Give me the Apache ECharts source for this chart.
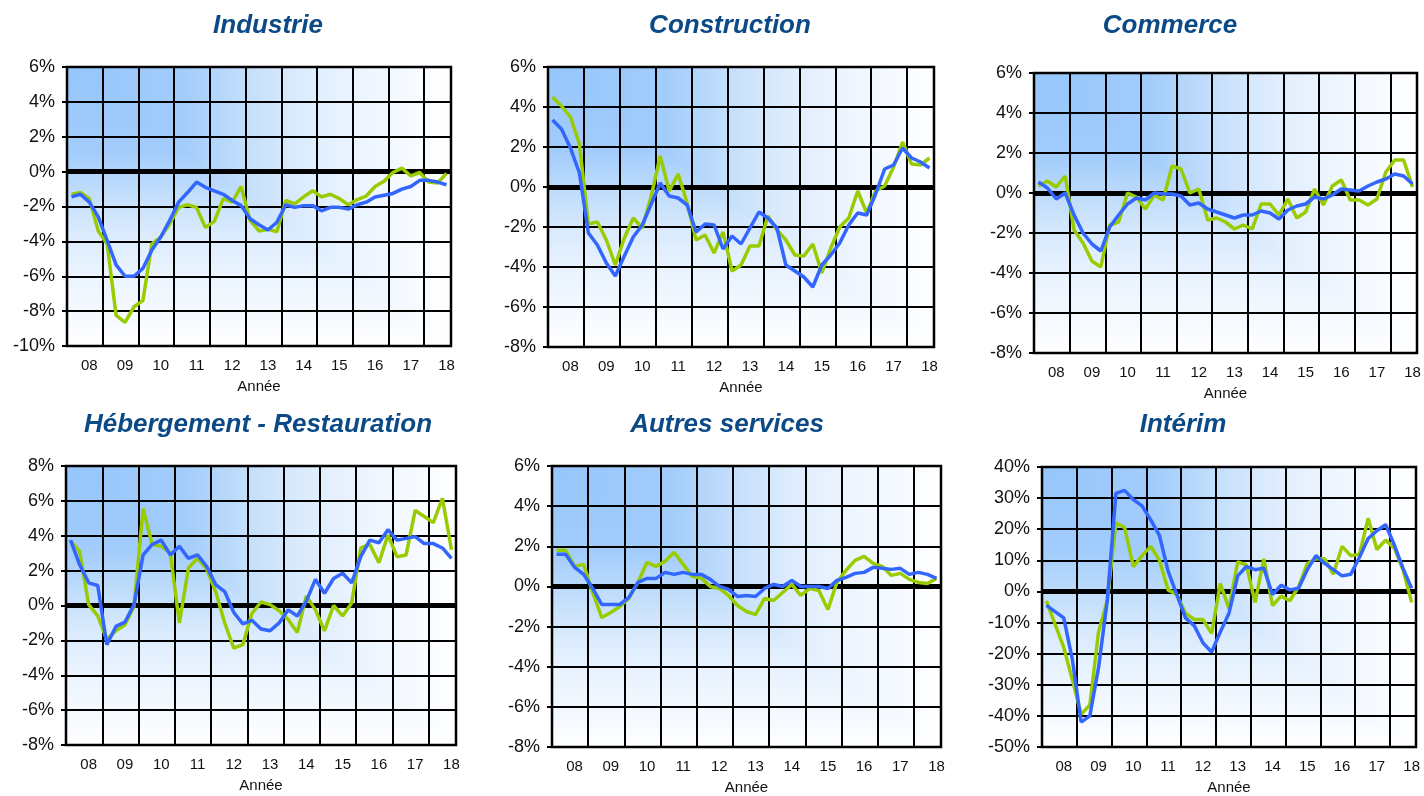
<!DOCTYPE html>
<html>
<head>
<meta charset="utf-8">
<script src="https://cdn.jsdelivr.net/npm/echarts@6/dist/echarts.min.js"></script>
<style>
html,body{margin:0;padding:0;background:#fff;}
#chart{width:1424px;height:796px;}
</style>
</head>
<body>
<div id="chart"></div>
<script>
// ---- categories (quarters) and tick labels ----
const quarters = ['2007T3','2007T4',
  '2008T1','2008T2','2008T3','2008T4','2009T1','2009T2','2009T3','2009T4',
  '2010T1','2010T2','2010T3','2010T4','2011T1','2011T2','2011T3','2011T4',
  '2012T1','2012T2','2012T3','2012T4','2013T1','2013T2','2013T3','2013T4',
  '2014T1','2014T2','2014T3','2014T4','2015T1','2015T2','2015T3','2015T4',
  '2016T1','2016T2','2016T3','2016T4','2017T1','2017T2','2017T3','2017T4',
  '2018T1'];
const yearLabels = ['08','09','10','11','12','13','14','15','16','17','18'];

// ---- series values (%) ----
const indGreen = [-1.3,-1.2,-1.55,-3.4,-4.15,-8.25,-8.65,-7.75,-7.4,-4.15,-3.75,-3.0,-2.05,-1.9,-2.05,-3.2,-2.85,-1.55,-1.75,-0.85,-2.8,-3.4,-3.3,-3.45,-1.65,-1.85,-1.45,-1.1,-1.45,-1.3,-1.55,-1.9,-1.6,-1.4,-0.85,-0.55,-0.05,0.2,-0.25,-0.05,-0.6,-0.65,-0.1];
const indBlue  = [-1.45,-1.3,-1.75,-2.6,-3.95,-5.35,-6.0,-6.0,-5.55,-4.5,-3.75,-2.8,-1.75,-1.2,-0.6,-0.9,-1.1,-1.3,-1.65,-1.95,-2.7,-3.05,-3.35,-2.9,-1.9,-2.05,-1.95,-1.95,-2.25,-2.05,-2.05,-2.15,-1.9,-1.75,-1.45,-1.35,-1.25,-1.0,-0.85,-0.5,-0.5,-0.6,-0.75];

const conGreen = [4.5,4.05,3.5,2.15,-1.85,-1.75,-2.65,-3.9,-2.55,-1.55,-2.05,-0.45,1.55,-0.2,0.65,-0.8,-2.65,-2.4,-3.3,-2.25,-4.2,-3.9,-2.95,-2.95,-1.45,-2.15,-2.65,-3.4,-3.45,-2.85,-4.3,-3.05,-2.0,-1.55,-0.2,-1.3,-0.2,0.05,1.0,2.25,1.15,1.1,1.45];
const conBlue  = [3.35,2.9,1.95,0.7,-2.3,-2.9,-3.8,-4.45,-3.45,-2.5,-1.9,-0.85,0.2,-0.45,-0.55,-0.9,-2.25,-1.85,-1.9,-3.1,-2.45,-2.85,-2.05,-1.25,-1.55,-2.05,-3.9,-4.2,-4.5,-5.0,-3.9,-3.4,-2.8,-1.9,-1.3,-1.4,-0.35,0.9,1.1,1.95,1.45,1.25,0.95];

const comGreen = [0.35,0.6,0.3,0.85,-1.85,-2.5,-3.4,-3.7,-1.6,-1.45,0.0,-0.2,-0.8,-0.1,-0.35,1.35,1.2,0.0,0.2,-1.35,-1.25,-1.45,-1.8,-1.6,-1.8,-0.55,-0.55,-1.1,-0.3,-1.25,-0.95,0.2,-0.6,0.35,0.65,-0.35,-0.35,-0.6,-0.3,1.05,1.65,1.65,0.3];
const comBlue  = [0.55,0.25,-0.3,0.0,-1.1,-2.0,-2.55,-2.9,-1.7,-1.1,-0.55,-0.25,-0.35,0.0,-0.05,-0.05,-0.15,-0.6,-0.5,-0.8,-0.95,-1.1,-1.25,-1.1,-1.1,-0.9,-1.0,-1.3,-0.85,-0.65,-0.55,-0.2,-0.3,-0.1,0.2,0.15,0.1,0.35,0.55,0.7,0.95,0.85,0.45];

const hebGreen = [3.7,3.1,0.05,-0.6,-1.95,-1.45,-1.1,-0.05,5.55,3.5,3.4,3.0,-1.0,2.15,2.7,2.1,0.8,-1.0,-2.45,-2.25,-0.45,0.2,0.05,-0.3,-0.8,-1.55,0.55,-0.25,-1.45,0.0,-0.6,0.15,3.3,3.5,2.45,4.05,2.8,2.9,5.45,5.1,4.75,6.15,3.2];
const hebBlue  = [3.75,2.35,1.3,1.15,-2.25,-1.2,-0.95,0.05,2.9,3.5,3.75,2.9,3.4,2.7,2.9,2.25,1.2,0.8,-0.4,-1.05,-0.85,-1.35,-1.45,-1.0,-0.25,-0.6,0.25,1.5,0.7,1.55,1.85,1.3,2.8,3.75,3.6,4.35,3.75,3.85,3.95,3.55,3.55,3.3,2.7];

const autGreen = [1.8,1.8,1.0,1.1,-0.3,-1.55,-1.3,-1.0,-0.6,0.2,1.2,1.0,1.25,1.7,1.1,0.5,0.4,0.0,-0.1,-0.45,-0.95,-1.25,-1.4,-0.6,-0.7,-0.3,0.1,-0.45,-0.1,-0.2,-1.15,0.2,0.8,1.3,1.5,1.15,1.0,0.55,0.65,0.35,0.2,0.15,0.4];
const autBlue  = [1.6,1.6,0.95,0.6,-0.1,-0.9,-0.9,-0.9,-0.55,0.2,0.4,0.4,0.7,0.6,0.7,0.6,0.6,0.35,0.0,-0.15,-0.5,-0.45,-0.5,-0.1,0.1,0.0,0.3,0.0,0.0,0.0,-0.1,0.3,0.45,0.65,0.7,0.95,0.9,0.85,0.9,0.6,0.7,0.6,0.4];

const intGreen = [-3,-10.5,-18,-28.5,-39.5,-36.5,-13,-3,22,20.5,8,11.5,14.5,10,0.5,-1,-7,-9,-9,-13.5,2.5,-5.5,9.5,8.5,-3.5,10.5,-4.5,-1.5,-3,1.5,9,10.5,10.5,5.5,14.5,11.5,12,23.5,13.5,16.5,14,7,-3.5];
const intBlue  = [-4.5,-6.5,-8.5,-22,-42,-40,-24.5,-3,31.5,32.5,29.5,27.5,23,18,6.5,-1,-8.5,-11,-16.5,-19.5,-13,-7,5,8,7,7.5,-1,2,0.5,1,7,11.5,9,7,5,5.5,11,17,19.5,21.5,15,7.5,1];

// ---- panel layout ----
const panels = [
  {title:'Industrie', green:indGreen, blue:indBlue, min:-10, max:6, step:2,
   g:{left:67, top:67, width:384, height:279}, tx:263, ty:8},
  {title:'Construction', green:conGreen, blue:conBlue, min:-8, max:6, step:2,
   g:{left:548, top:67, width:386, height:280}, tx:725, ty:8},
  {title:'Commerce', green:comGreen, blue:comBlue, min:-8, max:6, step:2,
   g:{left:1034, top:73, width:383, height:280}, tx:1165, ty:8},
  {title:'Hébergement - Restauration', green:hebGreen, blue:hebBlue, min:-8, max:8, step:2,
   g:{left:66, top:466, width:390, height:279}, tx:253, ty:407},
  {title:'Autres services', green:autGreen, blue:autBlue, min:-8, max:6, step:2,
   g:{left:552, top:466, width:389, height:286}, tx:722, ty:407},
  {title:'Intérim', green:intGreen, blue:intBlue, min:-50, max:40, step:10,
   g:{left:1042, top:467, width:374, height:282}, tx:1178, ty:407}
];

const FONT = '"Liberation Sans", Arial, Helvetica, sans-serif';
const GREEN = '#99cc00';
const BLUE = '#3366ff';
const stops = [
  {offset:0, color:'#96c6fb'},
  {offset:0.3, color:'#a2ccfb'},
  {offset:0.45, color:'#c0ddfb'},
  {offset:0.6, color:'#dbebfd'},
  {offset:0.75, color:'#ebf4fe'},
  {offset:0.9, color:'#f6faff'},
  {offset:1, color:'#ffffff'}
];

const option = {
  animation:false,
  backgroundColor:'#ffffff',
  title:[], grid:[], xAxis:[], yAxis:[], series:[], graphic:{elements:[]}
};

panels.forEach(function(p, k){
  option.title.push({
    text:p.title, left:p.tx, top:p.ty, textAlign:'center',
    textStyle:{fontFamily:FONT, fontSize:26, fontWeight:'bold', fontStyle:'italic', color:'#0b4a86'}
  });
  option.grid.push({
    left:p.g.left, top:p.g.top, width:p.g.width, height:p.g.height,
    containLabel:false, show:true, backgroundColor:'transparent',
    borderColor:'#000', borderWidth:2.5
  });
  option.xAxis.push({
    type:'category', gridIndex:k, data:quarters, boundaryGap:true,
    axisLine:{show:false}, axisTick:{show:false},
    splitLine:{show:true, interval:function(i){return i % 4 === 0;}, lineStyle:{color:'#000', width:2}},
    axisLabel:{
      interval:function(i){return i % 4 === 2;},
      formatter:function(v, i){return yearLabels[(i - 2) / 4];},
      fontFamily:FONT, fontSize:15, color:'#111', margin:12
    },
    name:'Année', nameLocation:'middle', nameGap:33,
    nameTextStyle:{fontFamily:FONT, fontSize:15, color:'#111'}
  });
  option.yAxis.push({
    type:'value', gridIndex:k, min:p.min, max:p.max, interval:p.step,
    axisLine:{show:false},
    axisTick:{show:true, length:5, lineStyle:{color:'#000', width:2}},
    splitLine:{show:true, lineStyle:{color:'#000', width:2}},
    axisLabel:{formatter:function(v){return v + '%';}, fontFamily:FONT, fontSize:18, color:'#111', margin:12}
  });
  option.series.push({
    type:'line', xAxisIndex:k, yAxisIndex:k, data:p.green, symbol:'none', z:3,
    lineStyle:{color:GREEN, width:3.5}, itemStyle:{color:GREEN},
    markLine:{
      silent:true, symbol:'none', z:2, animation:false,
      label:{show:false},
      lineStyle:{color:'#000', width:5, type:'solid'},
      data:[{yAxis:0}]
    }
  });
  option.series.push({
    type:'line', xAxisIndex:k, yAxisIndex:k, data:p.blue, symbol:'none', z:4,
    lineStyle:{color:BLUE, width:3.5}, itemStyle:{color:BLUE}
  });
  const L = p.g.left, T = p.g.top, W = p.g.width, H = p.g.height;
  option.graphic.elements.push({
    type:'rect', silent:true, z:-10,
    shape:{x:L, y:T, width:W, height:H},
    style:{fill:{type:'linear', x:0, y:0, x2:0, y2:1, colorStops:stops}}
  });
  option.graphic.elements.push({
    type:'polygon', silent:true, z:-9,
    shape:{points:[[L,T],[L+W,T],[L+W,T+H]]},
    style:{fill:{type:'linear', x:0, y:0, x2:1, y2:0, colorStops:stops}}
  });
});

const chart = echarts.init(document.getElementById('chart'), null, {renderer:'canvas'});
chart.setOption(option);
</script>
</body>
</html>
